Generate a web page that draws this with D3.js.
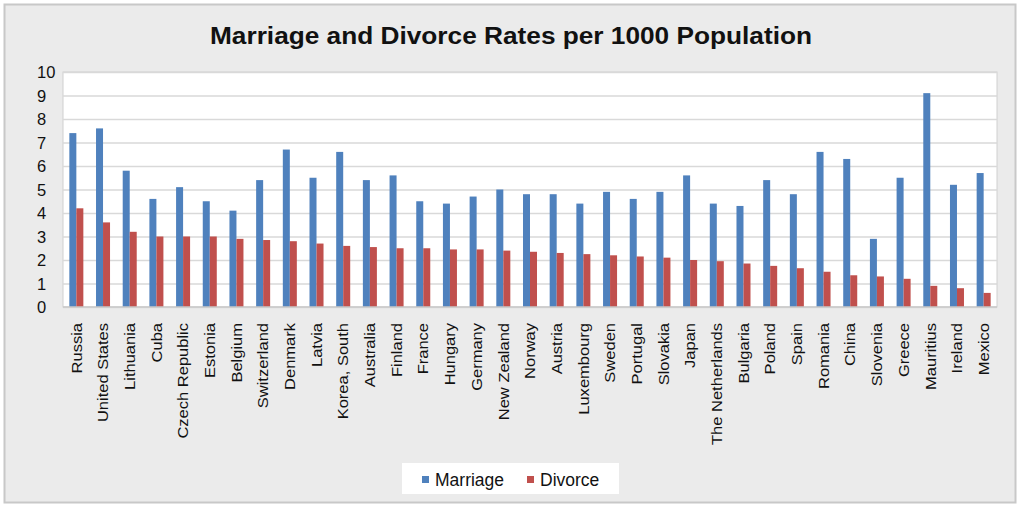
<!DOCTYPE html>
<html><head><meta charset="utf-8">
<script src="https://cdn.jsdelivr.net/npm/d3@7"></script>
<style>
html,body{margin:0;padding:0;background:#fff;}
svg{display:block;font-family:"Liberation Sans",Arial,sans-serif;}
</style></head>
<body>
<svg id="chart" width="1024" height="511"></svg>
<script>
const categories = ["Russia","United States","Lithuania","Cuba","Czech Republic","Estonia","Belgium","Switzerland","Denmark","Latvia","Korea, South","Australia","Finland","France","Hungary","Germany","New Zealand","Norway","Austria","Luxembourg","Sweden","Portugal","Slovakia","Japan","The Netherlands","Bulgaria","Poland","Spain","Romania","China","Slovenia","Greece","Mauritius","Ireland","Mexico"];
const marriage = [7.4,7.6,5.8,4.6,5.1,4.5,4.1,5.4,6.7,5.5,6.6,5.4,5.6,4.5,4.4,4.7,5.0,4.8,4.8,4.4,4.9,4.6,4.9,5.6,4.4,4.3,5.4,4.8,6.6,6.3,2.9,5.5,9.1,5.2,5.7];
const divorce = [4.2,3.6,3.2,3.0,3.0,3.0,2.9,2.85,2.8,2.7,2.6,2.55,2.5,2.5,2.45,2.45,2.4,2.35,2.3,2.25,2.2,2.15,2.1,2.0,1.95,1.85,1.75,1.65,1.5,1.35,1.3,1.2,0.9,0.8,0.6];
const seriesNames = ["Marriage","Divorce"];
const seriesColors = ["#4F81BD","#C0504D"];
const yTicks = [0,1,2,3,4,5,6,7,8,9,10];
const title = "Marriage and Divorce Rates per 1000 Population";

const svg = d3.select("#chart");
// outer frame
svg.append("rect").attr("x",4.5).attr("y",4.5).attr("width",1011).attr("height",498)
  .attr("fill","#ebebeb").attr("stroke","#c8c8c8").attr("stroke-width",2);

const plot = {left:63, right:997, top:72, bottom:307};
svg.append("rect").attr("x",plot.left).attr("y",plot.top)
  .attr("width",plot.right-plot.left).attr("height",plot.bottom-plot.top)
  .attr("fill","#fff").attr("stroke","#d0d0d0").attr("stroke-width",1);

const x = d3.scaleBand().domain(categories).range([plot.left,plot.right])
  .paddingInner(0.475).paddingOuter(0.2375);
const xs = d3.scaleBand().domain(seriesNames).range([0,x.bandwidth()]);
const y = d3.scaleLinear().domain([0,10]).range([plot.bottom,plot.top]);

// gridlines
const grid = svg.append("g").attr("transform",`translate(${plot.left},0)`)
  .call(d3.axisLeft(y).tickValues(yTicks).tickSize(-(plot.right-plot.left)).tickFormat(""));
grid.select(".domain").remove();
grid.selectAll("line").attr("stroke","#d9d9d9").attr("stroke-width",1.5);

// y axis labels
const ya = svg.append("g").attr("transform",`translate(${plot.left},0)`)
  .call(d3.axisLeft(y).tickValues(yTicks).tickSize(0).tickFormat(d3.format("d")));
ya.select(".domain").remove();
ya.selectAll("text").attr("text-anchor","start").attr("x",-26).attr("dy","0.36em")
  .attr("font-size",16.5).attr("fill","#111").attr("font-family","Liberation Sans, Arial, sans-serif");

// bars
const groups = svg.append("g").selectAll("g").data(categories).join("g")
  .attr("transform",d=>`translate(${x(d)},0)`);
groups.selectAll("rect").data((d,i)=>[{s:"Marriage",v:marriage[i]},{s:"Divorce",v:divorce[i]}])
  .join("rect")
  .attr("x",d=>xs(d.s)).attr("width",xs.bandwidth())
  .attr("y",d=>y(d.v)).attr("height",d=>y(0)-y(d.v))
  .attr("fill",(d,i)=>seriesColors[i]);

// baseline
svg.append("line").attr("x1",plot.left).attr("x2",plot.right).attr("y1",y(0)).attr("y2",y(0))
  .attr("stroke","#c8c8c8").attr("stroke-width",1.5);

// x axis labels
const xa = svg.append("g").attr("transform",`translate(0,${plot.bottom})`)
  .call(d3.axisBottom(x).tickSize(0));
xa.select(".domain").remove();
xa.selectAll("text").attr("transform","rotate(-90) scale(1.14,1)")
  .attr("text-anchor","end").attr("x",-14).attr("y",0).attr("dy","0.36em")
  .attr("font-size",14.5).attr("fill","#111").attr("font-family","Liberation Sans, Arial, sans-serif");

// title
svg.append("text").attr("x",511).attr("y",44).attr("text-anchor","middle")
  .attr("font-size",23).attr("font-weight","bold").attr("fill","#111")
  .attr("textLength",602).attr("lengthAdjust","spacingAndGlyphs").text(title);

// legend
const lg = svg.append("g");
lg.append("rect").attr("x",402).attr("y",463).attr("width",217).attr("height",31).attr("fill","#fff");
const legX = [422,527];
seriesNames.forEach((n,i)=>{
  lg.append("rect").attr("x",legX[i]).attr("y",476).attr("width",7).attr("height",7).attr("fill",seriesColors[i]);
  lg.append("text").attr("x",legX[i]+13).attr("y",485.5).attr("font-size",17.5).attr("fill","#111").text(n);
});
</script>
</body></html>
